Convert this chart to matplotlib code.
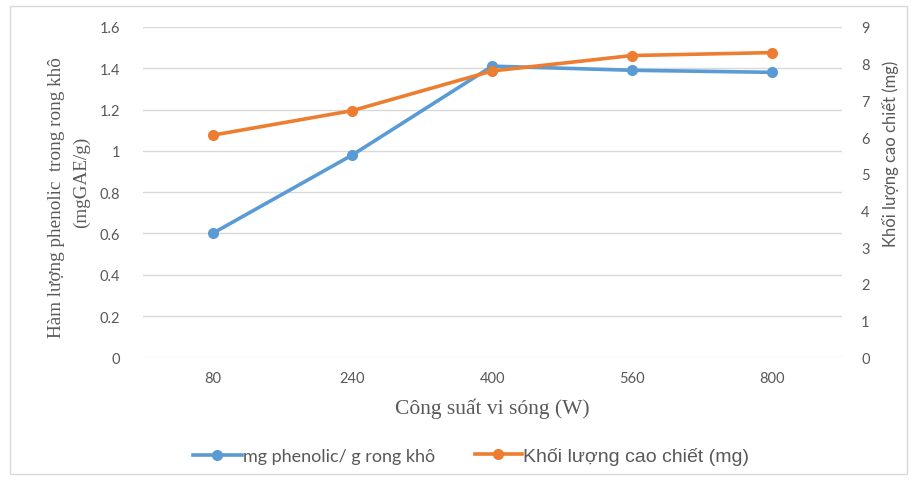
import matplotlib
matplotlib.use("Agg")
import matplotlib.pyplot as plt
from matplotlib.lines import Line2D
from matplotlib.patches import Rectangle

# Data
power_w = ["80", "240", "400", "560", "800"]
phenolic = [0.60, 0.98, 1.41, 1.39, 1.38]        # mg GAE / g dry seaweed
extract_mass = [6.05, 6.72, 7.80, 8.22, 8.30]    # mg extract

left_ticks = [0, 0.2, 0.4, 0.6, 0.8, 1.0, 1.2, 1.4, 1.6]
left_tick_labels = ["0", "0.2", "0.4", "0.6", "0.8", "1", "1.2", "1.4", "1.6"]
right_ticks = list(range(0, 10))

blue = "#5B9BD5"
orange = "#ED7D31"
gray_text = "#595959"
grid_col = "#D9D9D9"
sans = ["Lato", "DejaVu Sans"]
arial_like = ["Liberation Sans", "DejaVu Sans"]
serif = ["Liberation Serif", "DejaVu Serif"]

W, H = 920, 481
fig = plt.figure(figsize=(W / 100, H / 100), dpi=100)
fig.patches.append(Rectangle((0.011, 0.012), 0.975, 0.974, transform=fig.transFigure,
                             fill=False, edgecolor="#D9D9D9", linewidth=1.0))

ax = fig.add_axes([0.155, 0.255, 0.76, 0.687])
x = list(range(len(power_w)))

ax.set_xlim(-0.5, len(power_w) - 0.5)
ax.set_ylim(0, 1.6)
ax.set_yticks(left_ticks)
ax.set_yticklabels(left_tick_labels, family=sans, fontsize=10.5, color=gray_text)
ax.set_xticks(x)
ax.set_xticklabels(power_w, family=sans, fontsize=10.5, color=gray_text)
ax.tick_params(length=0, pad=10)
ax.tick_params(axis="y", pad=16)
ax.grid(axis="y", color=grid_col, linewidth=1.0)
ax.set_axisbelow(True)
for s in ax.spines.values():
    s.set_visible(False)

ax2 = ax.twinx()
ax2.set_ylim(0, 9)
ax2.set_yticks(right_ticks)
ax2.set_yticklabels([str(t) for t in right_ticks], family=sans, fontsize=10.5, color=gray_text)
ax2.tick_params(length=0, pad=14)
for s in ax2.spines.values():
    s.set_visible(False)

ax.plot(x, phenolic, color=blue, linewidth=2.6, marker="o", markersize=7, zorder=3)
ax2.plot(x, extract_mass, color=orange, linewidth=2.6, marker="o", markersize=7, zorder=3)

# Left axis title, two lines
fig.text(57 / W, 1 - 198 / H, "Hàm lượng phenolic  trong rong khô", family=serif,
         fontsize=13.8, color=gray_text, rotation=90, ha="center", va="center")
fig.text(81 / W, 1 - 182 / H, "(mgGAE/g)", family=serif,
         fontsize=13.8, color=gray_text, rotation=90, ha="center", va="center")

ax2.set_ylabel("Khối lượng cao chiết (mg)", family=sans, fontsize=12,
               color=gray_text)
ax2.yaxis.set_label_coords(1.057, 0.62)
ax.set_xlabel("Công suất vi sóng (W)", family=serif, fontsize=15.5, color=gray_text, labelpad=9)

# Legend entries
leg1 = fig.legend([Line2D([], [], color=blue, linewidth=2.6, marker="o", markersize=7)],
                  ["mg phenolic/ g rong khô"], loc="center left",
                  bbox_to_anchor=(193 / W, 1 - 457 / H), frameon=False,
                  borderpad=0, borderaxespad=0, prop={"family": sans, "size": 13},
                  labelcolor=gray_text, handlelength=2.7, handletextpad=0.05)
leg2 = fig.legend([Line2D([], [], color=orange, linewidth=2.6, marker="o", markersize=7)],
                  ["Khối lượng cao chiết (mg)"], loc="center left",
                  bbox_to_anchor=(475 / W, 1 - 457 / H), frameon=False,
                  borderpad=0, borderaxespad=0, prop={"family": arial_like, "size": 14},
                  labelcolor=gray_text, handlelength=2.4, handletextpad=0.05)

fig.savefig("out.png", dpi=100)
